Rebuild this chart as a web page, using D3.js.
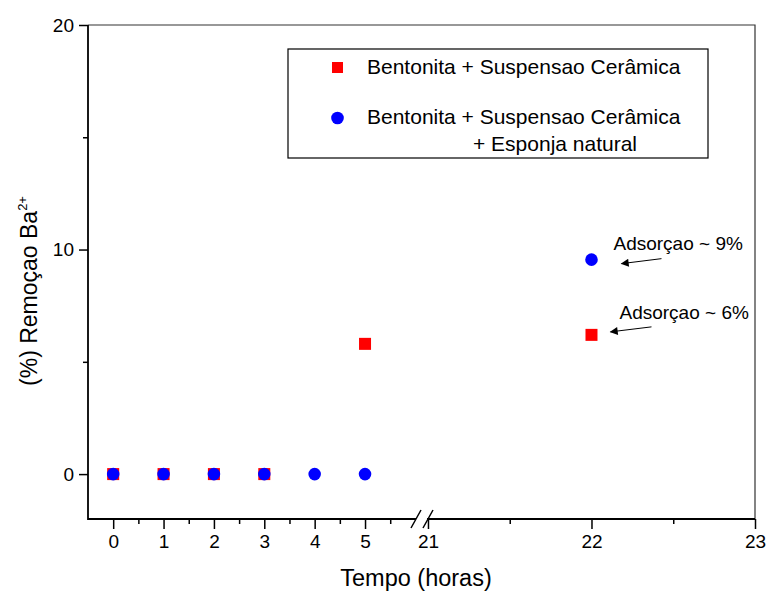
<!DOCTYPE html>
<meta charset="utf-8">
<style>
body{margin:0;background:#fff;}
svg text{font-family:"Liberation Sans",Arial,sans-serif;fill:#000;}
.axis text{font-size:19px;}
</style>
<svg id="chart" width="768" height="591"></svg>
<script src="https://d3js.org/d3.v7.min.js"></script>
<script>
// data
const hoursSquare = [0, 1, 2, 3, 5, 22]
const valuesSquare = [0, 0, 0, 0, 5.8, 6.2]
const hoursCircle = [0, 1, 2, 3, 4, 5, 22]
const valuesCircle = [0, 0, 0, 0, 0, 0, 9.55]
const xTicks = [0, 1, 2, 3, 4, 5, 21, 22, 23]
const xMinor = [0.5, 1.5, 2.5, 3.5, 4.5, 5.5, 21.5, 22.5]
const yTicks = [0, 10, 20]
const yMinor = [5, 15]
const legendLabels = ['Bentonita + Suspensao Cerâmica', 'Bentonita + Suspensao Cerâmica', '+ Esponja natural']
const notes = ['Adsorçao ~ 9%', 'Adsorçao ~ 6%']

const svg = d3.select('#chart')
const pL = 88, pR = 755, pT = 25, pB = 519

// broken axis: 0..6 then 21..23
const x = d3.scaleLinear().domain([-0.5, 6, 20.95, 23]).range([pL, 415.4, 419.8, pR])
const y = d3.scaleLinear().domain([-2, 20]).range([pB, pT])

// frame (top and right)
svg.append('path')
  .attr('d', `M${pL},${pT}H${pR}V${pB}`)
  .attr('fill', 'none').attr('stroke', '#333').attr('stroke-width', 1.2)

// x axis with break
const gx = svg.append('g').attr('class', 'axis').attr('transform', `translate(0,${pB})`)
gx.call(d3.axisBottom(x).tickValues(xTicks).tickSize(10).tickPadding(6))
gx.append('g').call(d3.axisBottom(x).tickValues(xMinor).tickSize(5).tickFormat(''))
gx.selectAll('.domain').remove()
gx.selectAll('line').attr('stroke', '#000').attr('stroke-width', 1.5)
gx.append('path').attr('d', `M${pL},0H416M427,0H${pR}`).attr('stroke', '#000').attr('stroke-width', 1.8)
gx.append('path').attr('d', 'M411,9L421,-9M423,9L433,-9').attr('stroke', '#000').attr('stroke-width', 1.5)

// y axis
const gy = svg.append('g').attr('class', 'axis').attr('transform', `translate(${pL},0)`)
gy.call(d3.axisLeft(y).tickValues(yTicks).tickSize(9).tickPadding(5))
gy.append('g').call(d3.axisLeft(y).tickValues(yMinor).tickSize(5).tickFormat(''))
gy.selectAll('.domain').remove()
gy.selectAll('line').attr('stroke', '#000').attr('stroke-width', 1.5)
gy.append('line').attr('y1', pT).attr('y2', pB + 1).attr('stroke', '#000').attr('stroke-width', 1.8)

// axis titles
svg.append('text').attr('x', 416).attr('y', 586).attr('text-anchor', 'middle')
  .style('font-size', '23.5px').text('Tempo (horas)')
const yt = svg.append('text').attr('transform', 'translate(37,291) rotate(-90)')
  .attr('text-anchor', 'middle').style('font-size', '23px')
yt.append('tspan').text('(%) Remoçao Ba')
yt.append('tspan').attr('dy', -10).style('font-size', '13px').text('2+')

// points
svg.selectAll('rect.sq').data(hoursSquare).enter().append('rect')
  .attr('class', 'sq')
  .attr('x', d => x(d) - 6).attr('y', (d, i) => y(valuesSquare[i]) - 6)
  .attr('width', 12).attr('height', 12).attr('fill', '#ff0000')
svg.selectAll('circle.ci').data(hoursCircle).enter().append('circle')
  .attr('class', 'ci')
  .attr('cx', d => x(d)).attr('cy', (d, i) => y(valuesCircle[i]))
  .attr('r', 6.3).attr('fill', '#0000ff')

// legend
const lg = svg.append('g').attr('transform', 'translate(288,49)')
lg.append('rect').attr('width', 420).attr('height', 109).attr('fill', '#fff')
  .attr('stroke', '#000').attr('stroke-width', 1.2)
lg.append('rect').attr('x', 44).attr('y', 13).attr('width', 11).attr('height', 11).attr('fill', '#ff0000')
lg.append('circle').attr('cx', 49.5).attr('cy', 69).attr('r', 6.3).attr('fill', '#0000ff')
lg.selectAll('text').data(legendLabels).enter().append('text')
  .attr('x', (d, i) => i == 2 ? 185 : 79)
  .attr('y', (d, i) => [25, 75, 102][i])
  .style('font-size', '21px').text(d => d)

// annotations with arrows
const defs = svg.append('defs')
defs.append('marker').attr('id', 'arr').attr('viewBox', '0 0 10 10')
  .attr('refX', 9).attr('refY', 5).attr('markerWidth', 10).attr('markerHeight', 8)
  .attr('markerUnits', 'userSpaceOnUse').attr('orient', 'auto')
  .append('path').attr('d', 'M0,0L10,5L0,10Z').attr('fill', '#000')

const hi = y(valuesCircle[6]), lo = y(valuesSquare[5]), xp = x(22)
svg.append('text').attr('x', xp + 22).attr('y', hi - 10).style('font-size', '19px').text(notes[0])
svg.append('line').attr('x1', xp + 70).attr('y1', hi - 1).attr('x2', xp + 30).attr('y2', hi + 4)
  .attr('stroke', '#000').attr('stroke-width', 1).attr('marker-end', 'url(#arr)')
svg.append('text').attr('x', xp + 28).attr('y', lo - 16).style('font-size', '19px').text(notes[1])
svg.append('line').attr('x1', xp + 60).attr('y1', lo - 8).attr('x2', xp + 19).attr('y2', lo - 3)
  .attr('stroke', '#000').attr('stroke-width', 1).attr('marker-end', 'url(#arr)')
</script>
